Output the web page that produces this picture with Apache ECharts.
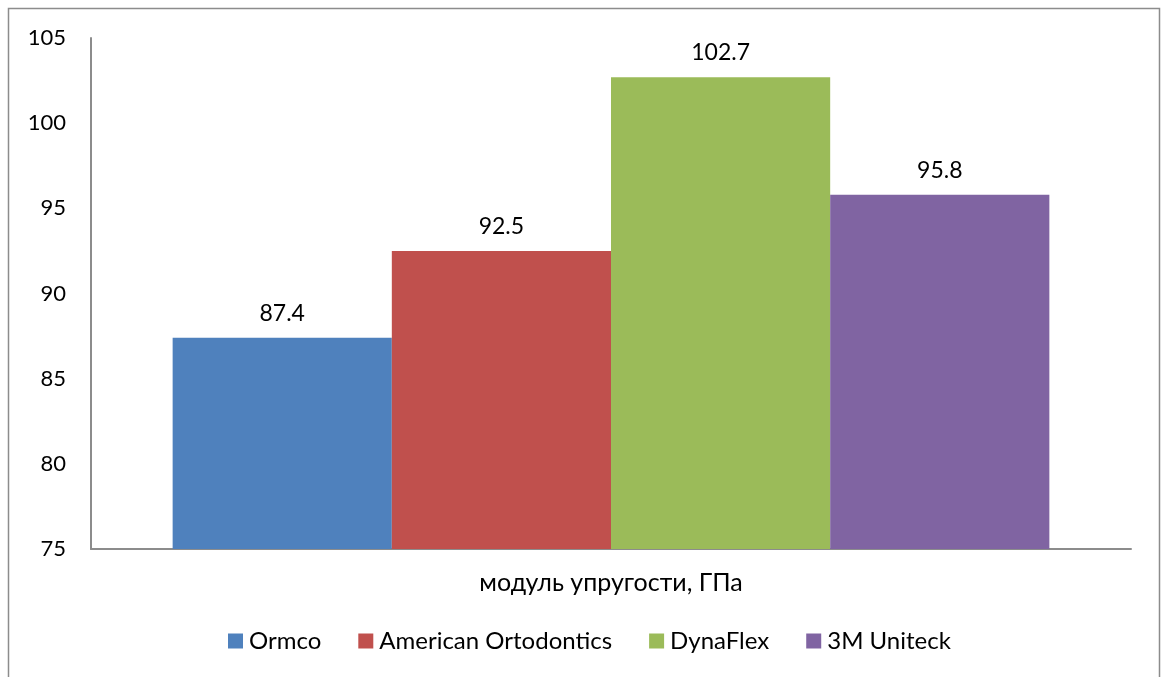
<!DOCTYPE html>
<html>
<head>
<meta charset="utf-8">
<script src="https://cdn.jsdelivr.net/npm/echarts@6/dist/echarts.min.js"></script>
<style>
  html, body { margin: 0; padding: 0; background: #fff; }
  #chart { width: 1169px; height: 677px; }
</style>
</head>
<body>
<div id="chart"></div>
<script>
// Elastic modulus (GPa) by manufacturer
const category = ['модуль упругости, ГПа'];
const seriesNames = ['Ormco', 'American Ortodontics', 'DynaFlex', '3M Uniteck'];
const seriesValues = [87.4, 92.5, 102.7, 95.8];
const seriesColors = ['#4F81BD', '#C0504D', '#9BBB59', '#8064A2'];
const yMin = 75, yMax = 105, yStep = 5;

const FONT = 'Lato, "Open Sans", sans-serif';

const chart = echarts.init(document.getElementById('chart'), null, { renderer: 'canvas' });

chart.setOption({
  backgroundColor: '#fff',
  animation: false,
  textStyle: { fontFamily: FONT },
  graphic: [{
    type: 'rect',
    shape: { x: 8.5, y: 8.5, width: 1151, height: 700 },
    style: { fill: 'none', stroke: '#8c8c8c', lineWidth: 1.5 },
    silent: true
  }],
  grid: { left: 91, top: 38, right: 38, bottom: 128, containLabel: false },
  legend: {
    top: 624,
    left: 223,
    itemWidth: 15,
    itemHeight: 15,
    itemGap: 37,
    icon: 'rect',
    textStyle: { fontFamily: FONT, fontSize: 24, color: '#000', padding: [0, 0, 0, 1] },
    data: seriesNames
  },
  xAxis: {
    type: 'category',
    data: category,
    axisLine: { lineStyle: { color: '#8c8c8c', width: 2 } },
    axisTick: { show: false },
    axisLabel: { margin: 21, fontFamily: FONT, fontSize: 25, color: '#000' }
  },
  yAxis: {
    type: 'value',
    min: yMin,
    max: yMax,
    interval: yStep,
    axisLine: { show: true, lineStyle: { color: '#8c8c8c', width: 2 } },
    axisTick: { show: false },
    splitLine: { show: false },
    axisLabel: { margin: 25, fontFamily: FONT, fontSize: 22, color: '#000' }
  },
  series: seriesNames.map((name, i) => ({
    name: name,
    type: 'bar',
    barGap: '0%',
    barCategoryGap: '15.7%',
    itemStyle: { color: seriesColors[i] },
    label: {
      show: true,
      position: 'top',
      distance: 13,
      fontFamily: FONT,
      fontSize: 23,
      color: '#000',
      formatter: p => p.value.toFixed(1)
    },
    data: [seriesValues[i]]
  }))
});
</script>
</body>
</html>
